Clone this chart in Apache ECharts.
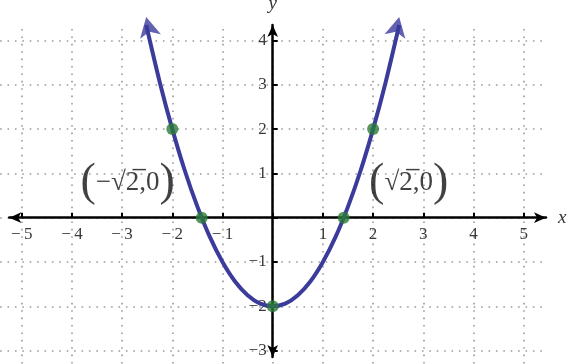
<!DOCTYPE html>
<html>
<head>
<meta charset="utf-8">
<script src="https://cdn.jsdelivr.net/npm/echarts@6/dist/echarts.min.js"></script>
<style>
html,body{margin:0;padding:0;background:#fff;}
#chart{width:569px;height:364px;}
</style>
</head>
<body>
<div id="chart"></div>
<script>
// ---- data ----
const curveX = [-2.52, -2.25, -2, -1.75, -1.5, -1.25, -1, -0.75, -0.5, -0.25, 0, 0.25, 0.5, 0.75, 1, 1.25, 1.5, 1.75, 2, 2.25, 2.52];
const curveY = [4.35, 3.06, 2, 1.06, 0.25, -0.44, -1, -1.44, -1.75, -1.94, -2, -1.94, -1.75, -1.44, -1, -0.44, 0.25, 1.06, 2, 3.06, 4.35];
const pointX = [-2, -1.414, 0, 1.414, 2];
const pointY = [2, 0, -2, 0, 2];
const pointLabels = ['', '−√2\u0305,0', '', '√2\u0305,0', ''];
const xTicks = [-5, -4, -3, -2, -1, 1, 2, 3, 4, 5];
const yTicks = [-3, -2, -1, 1, 2, 3, 4];

// ---- layout (pixel mapping) ----
const W = 569, H = 364;
const X0 = 272.7, SX = 50.2, Y0 = 217.7, SY = 44.3;
function gridFor(r) {
  return {
    left: X0 + r.xmin * SX,
    right: W - (X0 + r.xmax * SX),
    top: Y0 - r.ymax * SY,
    bottom: H - (Y0 - r.ymin * SY),
    containLabel: false,
    outerBoundsMode: 'none'
  };
}
const axesRange = {xmin: -5.247, xmax: 5.444, ymin: -3.145, ymax: 4.35};
const gridRange = {xmin: -5.43, xmax: 5.42, ymin: -3.35, ymax: 4.26};

const FONT = 'Liberation Serif';
const fmtWith = sep => v => {
  const r = Math.round(v);
  if (Math.abs(v - r) > 1e-6 || r === 0) return '';
  return r < 0 ? '−' + sep + (-r) : String(r);
};
const labelStyle = {color: '#3a3a3a', fontFamily: FONT, fontSize: 17, hideOverlap: false};

const chart = echarts.init(document.getElementById('chart'), null, {renderer: 'canvas'});
const curveData = curveX.map((x, i) => [x, curveY[i]]);
const last = curveX.length - 1;

chart.setOption({
  animation: false,
  grid: [gridFor(axesRange), gridFor(gridRange)],
  xAxis: [
    {
      type: 'value', gridIndex: 0, min: axesRange.xmin, max: axesRange.xmax,
      position: 'bottom', offset: axesRange.ymin * SY,
      minInterval: 1, maxInterval: 1, splitNumber: 10,
      axisLine: {onZero: false, lineStyle: {color: '#000', width: 2.5}, symbol: ['arrow', 'arrow'], symbolSize: [8, 12]},
      axisTick: {show: true, inside: true, length: 5, lineStyle: {color: '#000', width: 2}},
      axisLabel: {show: true, margin: 8, formatter: fmtWith('\u2009'), showMinLabel: false, showMaxLabel: false, ...labelStyle},
      splitLine: {show: false},
      name: 'x', nameLocation: 'end', nameGap: 12,
      nameTextStyle: {fontFamily: FONT, fontStyle: 'italic', fontSize: 19, color: '#333'}
    },
    {
      type: 'value', gridIndex: 1, min: gridRange.xmin, max: gridRange.xmax,
      minInterval: 1, maxInterval: 1, splitNumber: 10,
      axisLine: {show: false}, axisTick: {show: false}, axisLabel: {show: false},
      splitLine: {show: true, showMinLine: false, showMaxLine: false,
        lineStyle: {color: '#9a9a9a', width: 1.6, type: [1.6, 5.8]}}
    }
  ],
  yAxis: [
    {
      type: 'value', gridIndex: 0, min: axesRange.ymin, max: axesRange.ymax,
      position: 'left', offset: axesRange.xmin * SX,
      minInterval: 1, maxInterval: 1, splitNumber: 8,
      axisLine: {onZero: false, lineStyle: {color: '#000', width: 2.5}, symbol: ['arrow', 'arrow'], symbolSize: [8, 12]},
      axisTick: {show: true, inside: true, length: 5, lineStyle: {color: '#000', width: 2}},
      axisLabel: {show: true, margin: 6, formatter: fmtWith(''), showMinLabel: false, showMaxLabel: false, ...labelStyle},
      splitLine: {show: false},
      name: 'y', nameLocation: 'end', nameGap: 11,
      nameTextStyle: {fontFamily: FONT, fontStyle: 'italic', fontSize: 19, color: '#333'}
    },
    {
      type: 'value', gridIndex: 1, min: gridRange.ymin, max: gridRange.ymax,
      minInterval: 1, maxInterval: 1, splitNumber: 8,
      axisLine: {show: false}, axisTick: {show: false}, axisLabel: {show: false},
      splitLine: {show: true, showMinLine: false, showMaxLine: false,
        lineStyle: {color: '#9a9a9a', width: 1.6, type: [1.6, 5.8]}}
    }
  ],
  series: [
    {
      type: 'line', xAxisIndex: 0, yAxisIndex: 0, data: curveData,
      smooth: 0.3, showSymbol: false, clip: false, z: 3,
      lineStyle: {color: '#3b3b9c', width: 4}
    },
    {
      type: 'scatter', xAxisIndex: 0, yAxisIndex: 0, clip: false, z: 4,
      symbol: 'arrow', symbolSize: [16, 20], symbolOffset: [0, -8],
      itemStyle: {color: '#3b3b9c'},
      data: [
        {value: [curveX[0], curveY[0]], symbolRotate: 12.4},
        {value: [curveX[last], curveY[last]], symbolRotate: -12.4}
      ]
    },
    {
      type: 'scatter', xAxisIndex: 0, yAxisIndex: 0, clip: false, z: 5,
      symbolSize: 12, itemStyle: {color: '#2a7b38'},
      data: pointX.map((x, i) => ({
        value: [x, pointY[i]],
        label: pointLabels[i] ? {
          show: true, position: 'inside', color: '#111', textBorderWidth: 0,
          offset: x < 0 ? [-74, -35] : [65, -35],
          formatter: '{p|(}{t|' + pointLabels[i] + '}{p|)}',
          rich: {
            p: {fontFamily: FONT, fontSize: 46, color: '#111', textBorderWidth: 0},
            t: {fontFamily: FONT, fontSize: 27, color: '#111', textBorderWidth: 0}
          }
        } : {show: false}
      }))
    }
  ]
});
</script>
</body>
</html>
